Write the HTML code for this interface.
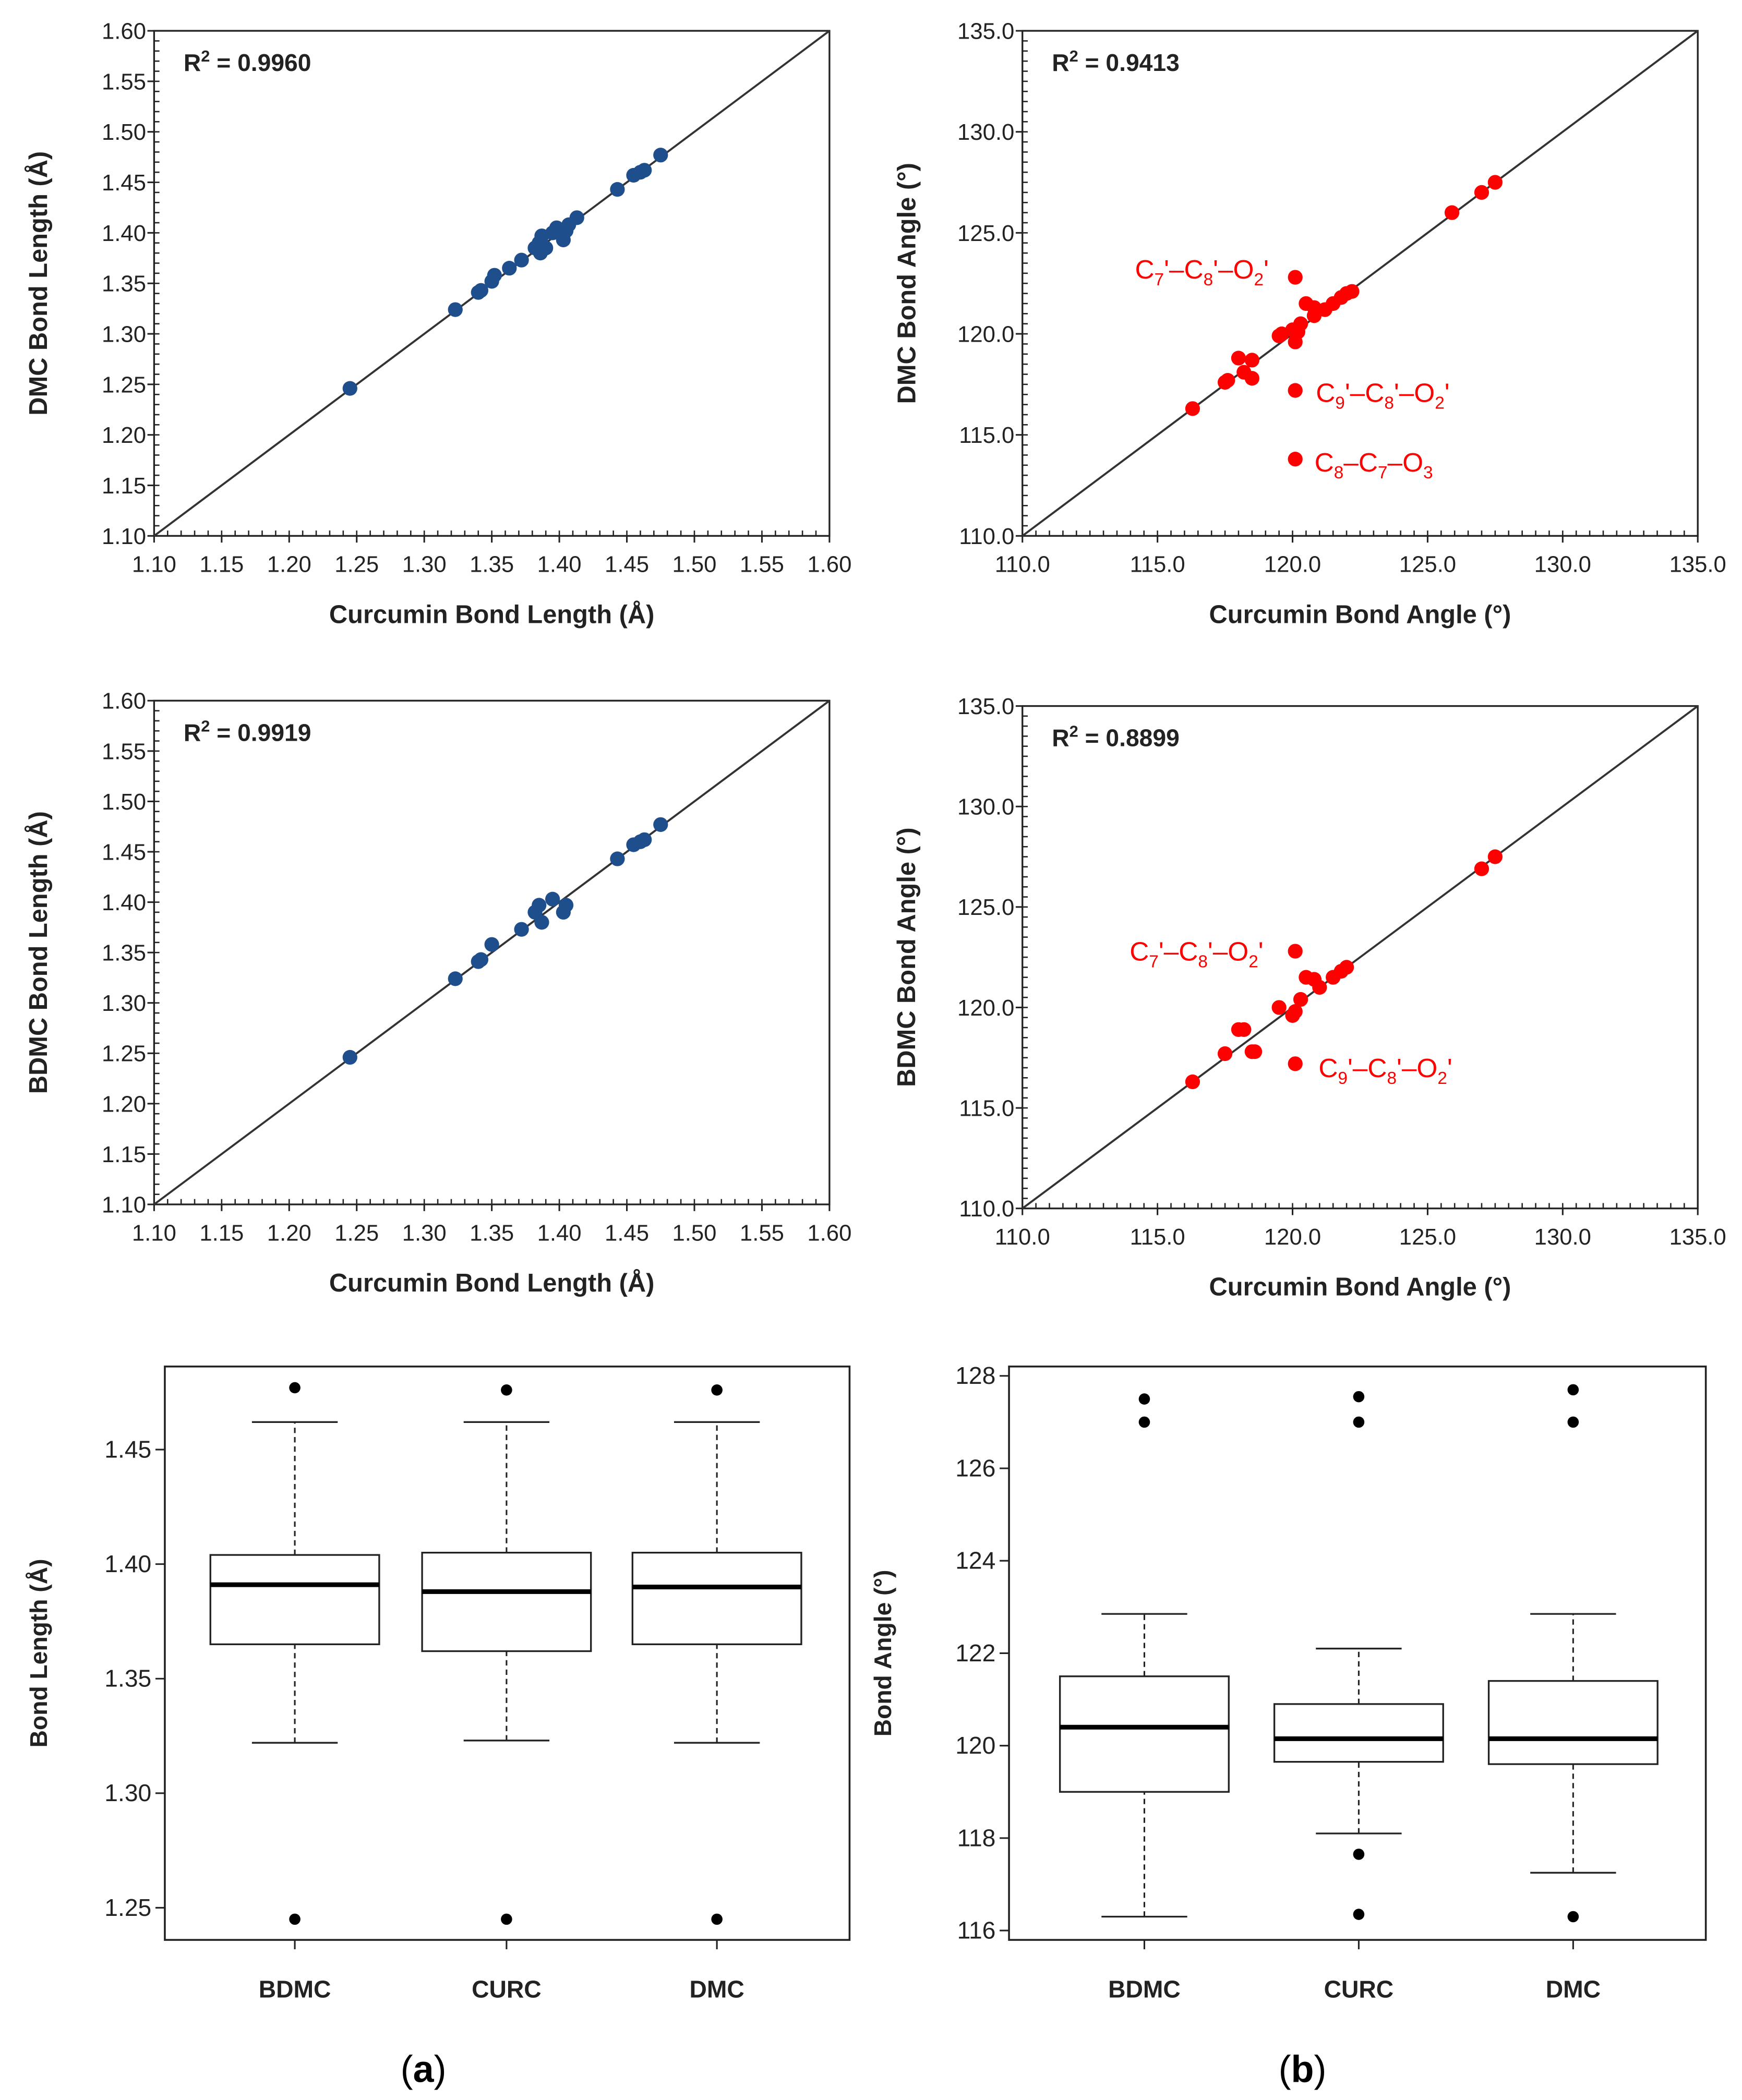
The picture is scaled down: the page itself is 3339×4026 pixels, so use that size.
<!DOCTYPE html>
<html><head><meta charset="utf-8"><style>
html,body{margin:0;padding:0;background:#fff}
svg{display:block}
text{font-family:"Liberation Sans",Arial,sans-serif}
</style></head><body>
<svg id="fig" width="3339" height="4026" viewBox="0 0 1300 1567.5" xmlns="http://www.w3.org/2000/svg"></svg>
<script>
// ---- data ----
const p1CurcLen=[1.245,1.323,1.340,1.342,1.350,1.352,1.363,1.372,1.382,1.385,1.387,1.386,1.390,1.395,1.398,1.400,1.403,1.405,1.407,1.413,1.443,1.455,1.460,1.463,1.475];
const p1DmcLen =[1.246,1.324,1.341,1.343,1.352,1.358,1.365,1.373,1.385,1.390,1.397,1.380,1.385,1.400,1.405,1.400,1.393,1.402,1.408,1.415,1.443,1.457,1.460,1.462,1.477];
const p3CurcLen=[1.245,1.323,1.340,1.342,1.350,1.372,1.382,1.385,1.387,1.395,1.403,1.405,1.443,1.455,1.460,1.463,1.475];
const p3BdmcLen=[1.246,1.324,1.341,1.343,1.358,1.373,1.390,1.397,1.380,1.403,1.390,1.397,1.443,1.457,1.460,1.462,1.477];
const p2CurcAng=[116.3,117.5,117.6,118.0,118.2,118.5,118.5,119.5,119.6,120.0,120.1,120.2,120.3,120.5,120.8,120.8,121.2,121.5,121.8,122.0,122.2,120.1,120.1,120.1,125.9,127.0,127.5];
const p2DmcAng =[116.3,117.6,117.7,118.8,118.1,117.8,118.7,119.9,120.0,120.2,119.6,120.1,120.5,121.5,121.3,120.9,121.2,121.5,121.8,122.0,122.1,122.8,117.2,113.8,126.0,127.0,127.5];
const p4CurcAng=[116.3,117.5,118.0,118.2,118.5,118.6,119.5,120.0,120.1,120.3,120.5,120.8,121.0,121.5,121.8,122.0,120.1,120.1,127.0,127.5];
const p4BdmcAng=[116.3,117.7,118.9,118.9,117.8,117.8,120.0,119.6,119.8,120.4,121.5,121.4,121.0,121.5,121.8,122.0,122.8,117.2,126.9,127.5];
const lenTicks=["1.10","1.15","1.20","1.25","1.30","1.35","1.40","1.45","1.50","1.55","1.60"];
const angTicks=["110.0","115.0","120.0","125.0","130.0","135.0"];
const boxCats=["BDMC","CURC","DMC"];
// [lowWhisker, q1, median, q3, highWhisker]
const lenStats=[[1.322,1.365,1.391,1.404,1.462],[1.323,1.362,1.388,1.405,1.462],[1.322,1.365,1.390,1.405,1.462]];
const lenOutliers=[[1.477,1.245],[1.476,1.245],[1.476,1.245]];
const angStats=[[116.3,119.0,120.4,121.5,122.85],[118.1,119.65,120.15,120.9,122.1],[117.25,119.6,120.15,121.4,122.85]];
const angOutliers=[[127.5,127.0],[127.55,127.0,117.65,116.35],[127.7,127.0,116.3]];
const lenBoxTicks=[1.25,1.30,1.35,1.40,1.45];
const angBoxTicks=[116,118,120,122,124,126,128];

const NS="http://www.w3.org/2000/svg";
const svg=document.getElementById('fig');
function mk(tag,attrs,parent,txt){const e=document.createElementNS(NS,tag);for(const k in attrs)e.setAttribute(k,attrs[k]);if(txt!==undefined)e.textContent=txt;(parent||svg).appendChild(e);return e;}
function grp(name){const g=mk('g',{});return g;}

function scatter(o){
  const g=grp(o.name);
  const sx=v=>o.x0+(v-o.min)/(o.max-o.min)*(o.x1-o.x0);
  const sy=v=>o.y1-(v-o.min)/(o.max-o.min)*(o.y1-o.y0);
  const fr=mk('rect',{x:o.x0,y:o.y0,width:o.x1-o.x0,height:o.y1-o.y0,fill:'none',stroke:'#222','stroke-width':1.3},g);
  
  const nMinor=o.minor;
  for(let i=0;i<=nMinor;i++){const fx=o.x0+i/nMinor*(o.x1-o.x0);const fy=o.y1-i/nMinor*(o.y1-o.y0);
    mk('line',{x1:fx,x2:fx,y1:o.y1,y2:o.y1-4,stroke:'#222','stroke-width':1},g);
    mk('line',{x1:o.x0,x2:o.x0+4,y1:fy,y2:fy,stroke:'#222','stroke-width':1},g);}
  o.ticks.forEach((t,i)=>{const v=parseFloat(t);
    mk('line',{x1:sx(v),x2:sx(v),y1:o.y1,y2:o.y1+5,stroke:'#222','stroke-width':1.2},g);
    mk('line',{x1:o.x0-5,x2:o.x0,y1:sy(v),y2:sy(v),stroke:'#222','stroke-width':1.2},g);
    const tx=mk('text',{x:sx(v),y:o.y1+27,'text-anchor':'middle','font-size':17,fill:'#222'},g,t);
    
    const ty=mk('text',{x:o.x0-6,y:sy(v)+6,'text-anchor':'end','font-size':17,fill:'#222'},g,t);
    });
  const dl=mk('line',{x1:sx(o.min),y1:sy(o.min),x2:sx(o.max),y2:sy(o.max),stroke:'#333','stroke-width':1.5},g);
  
  o.xs.forEach((v,i)=>{const c=mk('circle',{cx:sx(v),cy:sy(o.ys[i]),r:5.5,fill:o.color},g);
    });
  const r2=mk('text',{x:o.x0+22,y:o.y0+30,'font-size':18,'font-weight':'bold',fill:'#222'},g);
  
  r2.innerHTML='R<tspan dy="-7" font-size="12">2</tspan><tspan dy="7"> = '+o.r2+'</tspan>';
  const xt=mk('text',{x:(o.x0+o.x1)/2,y:o.y1+65,'text-anchor':'middle','font-size':19,'font-weight':'bold',fill:'#222'},g,o.xtitle);
  
  const cy=(o.y0+o.y1)/2;
  const yt=mk('text',{x:o.x0-80,y:cy,'text-anchor':'middle','font-size':19,'font-weight':'bold',fill:'#222',transform:`rotate(-90 ${o.x0-80} ${cy})`},g,o.ytitle);
  
  (o.labels||[]).forEach(L=>{const t=mk('text',{x:L[0],y:L[1],'font-size':20,fill:'#f00'},g);
    t.innerHTML=L[2];});
}
const sub=s=>`<tspan dy="5" font-size="13">${s}</tspan><tspan dy="-5">`;
const C7C8O2="C"+sub("7")+"'–C</tspan>"+sub("8")+"'–O</tspan>"+sub("2")+"'</tspan>";
const C9C8O2="C"+sub("9")+"'–C</tspan>"+sub("8")+"'–O</tspan>"+sub("2")+"'</tspan>";
const C8C7O3="C"+sub("8")+"–C</tspan>"+sub("7")+"–O</tspan>"+sub("3")+"</tspan>";

scatter({name:'dmc-length-scatter',x0:115,x1:619,y0:23,y1:400,min:1.10,max:1.60,minor:50,ticks:lenTicks,xs:p1CurcLen,ys:p1DmcLen,color:'#1f4e8c',r2:'0.9960',xtitle:'Curcumin Bond Length (Å)',ytitle:'DMC Bond Length (Å)'});
scatter({name:'dmc-angle-scatter',x0:763,x1:1267,y0:23,y1:400,min:110,max:135,minor:50,ticks:angTicks,xs:p2CurcAng,ys:p2DmcAng,color:'#f00',r2:'0.9413',xtitle:'Curcumin Bond Angle (°)',ytitle:'DMC Bond Angle (°)',
  labels:[[847,208,C7C8O2],[982,300,C9C8O2],[981,352,C8C7O3]]});
scatter({name:'bdmc-length-scatter',x0:115,x1:619,y0:523,y1:899,min:1.10,max:1.60,minor:50,ticks:lenTicks,xs:p3CurcLen,ys:p3BdmcLen,color:'#1f4e8c',r2:'0.9919',xtitle:'Curcumin Bond Length (Å)',ytitle:'BDMC Bond Length (Å)'});
scatter({name:'bdmc-angle-scatter',x0:763,x1:1267,y0:527,y1:902,min:110,max:135,minor:50,ticks:angTicks,xs:p4CurcAng,ys:p4BdmcAng,color:'#f00',r2:'0.8899',xtitle:'Curcumin Bond Angle (°)',ytitle:'BDMC Bond Angle (°)',
  labels:[[843,717,C7C8O2],[984,804,C9C8O2]]});

function boxplot(o){
  const g=grp(o.name);
  const sy=v=>o.ya+(v-o.va)/(o.vb-o.va)*(o.yb-o.ya);
  const fr=mk('rect',{x:o.x0,y:o.y0,width:o.x1-o.x0,height:o.y1-o.y0,fill:'none',stroke:'#222','stroke-width':1.4},g);
  
  o.ticks.forEach(v=>{mk('line',{x1:o.x0-7,x2:o.x0,y1:sy(v),y2:sy(v),stroke:'#222','stroke-width':1.2},g);
    const t=mk('text',{x:o.x0-10,y:sy(v)+6,'text-anchor':'end','font-size':18,fill:'#222'},g,o.fmt(v));
    });
  o.cats.forEach((c,i)=>{const cx=o.cx[i],hw=63,s=o.stats[i];
    mk('line',{x1:cx,x2:cx,y1:o.y1,y2:o.y1+7,stroke:'#222','stroke-width':1.2},g);
    const t=mk('text',{x:cx,y:o.y1+43,'text-anchor':'middle','font-size':18,'font-weight':'bold',fill:'#222'},g,c);
    
    mk('line',{x1:cx,x2:cx,y1:sy(s[0]),y2:sy(s[1]),stroke:'#222','stroke-width':1.2,'stroke-dasharray':'4 3'},g);
    mk('line',{x1:cx,x2:cx,y1:sy(s[3]),y2:sy(s[4]),stroke:'#222','stroke-width':1.2,'stroke-dasharray':'4 3'},g);
    mk('line',{x1:cx-32,x2:cx+32,y1:sy(s[0]),y2:sy(s[0]),stroke:'#222','stroke-width':1.3},g);
    mk('line',{x1:cx-32,x2:cx+32,y1:sy(s[4]),y2:sy(s[4]),stroke:'#222','stroke-width':1.3},g);
    const b=mk('rect',{x:cx-hw,y:sy(s[3]),width:2*hw,height:sy(s[1])-sy(s[3]),fill:'#fff',stroke:'#222','stroke-width':1.3},g);
    
    const m=mk('line',{x1:cx-hw,x2:cx+hw,y1:sy(s[2]),y2:sy(s[2]),stroke:'#000','stroke-width':3.5},g);
    
    o.out[i].forEach(v=>{const p=mk('circle',{cx:cx,cy:sy(v),r:4.2,fill:'#000'},g);
      });});
  const cy=(o.y0+o.y1)/2,tx=o.x0-88;
  const yt=mk('text',{x:tx,y:cy,'text-anchor':'middle','font-size':18,'font-weight':'bold',fill:'#222',transform:`rotate(-90 ${tx} ${cy})`},g,o.ytitle);
  
}
boxplot({name:'bond-length-boxplot',x0:123,x1:634,y0:1020,y1:1448,va:1.45,ya:1082,vb:1.25,yb:1424,ticks:lenBoxTicks,fmt:v=>v.toFixed(2),cats:boxCats,cx:[220,378,535],stats:lenStats,out:lenOutliers,ytitle:'Bond Length (Å)'});
boxplot({name:'bond-angle-boxplot',x0:753,x1:1273,y0:1020,y1:1448,va:128,ya:1027,vb:116,yb:1441,ticks:angBoxTicks,fmt:v=>String(v),cats:boxCats,cx:[854,1014,1174],stats:angStats,out:angOutliers,ytitle:'Bond Angle (°)'});

const pa=mk('text',{x:316,y:1554,'text-anchor':'middle','font-size':28,fill:'#000','font-family':'Liberation Serif, serif'});

pa.innerHTML='(<tspan font-weight="bold">a</tspan>)';
const pb=mk('text',{x:972,y:1554,'text-anchor':'middle','font-size':28,fill:'#000','font-family':'Liberation Serif, serif'});

pb.innerHTML='(<tspan font-weight="bold">b</tspan>)';
</script>
</body></html>
